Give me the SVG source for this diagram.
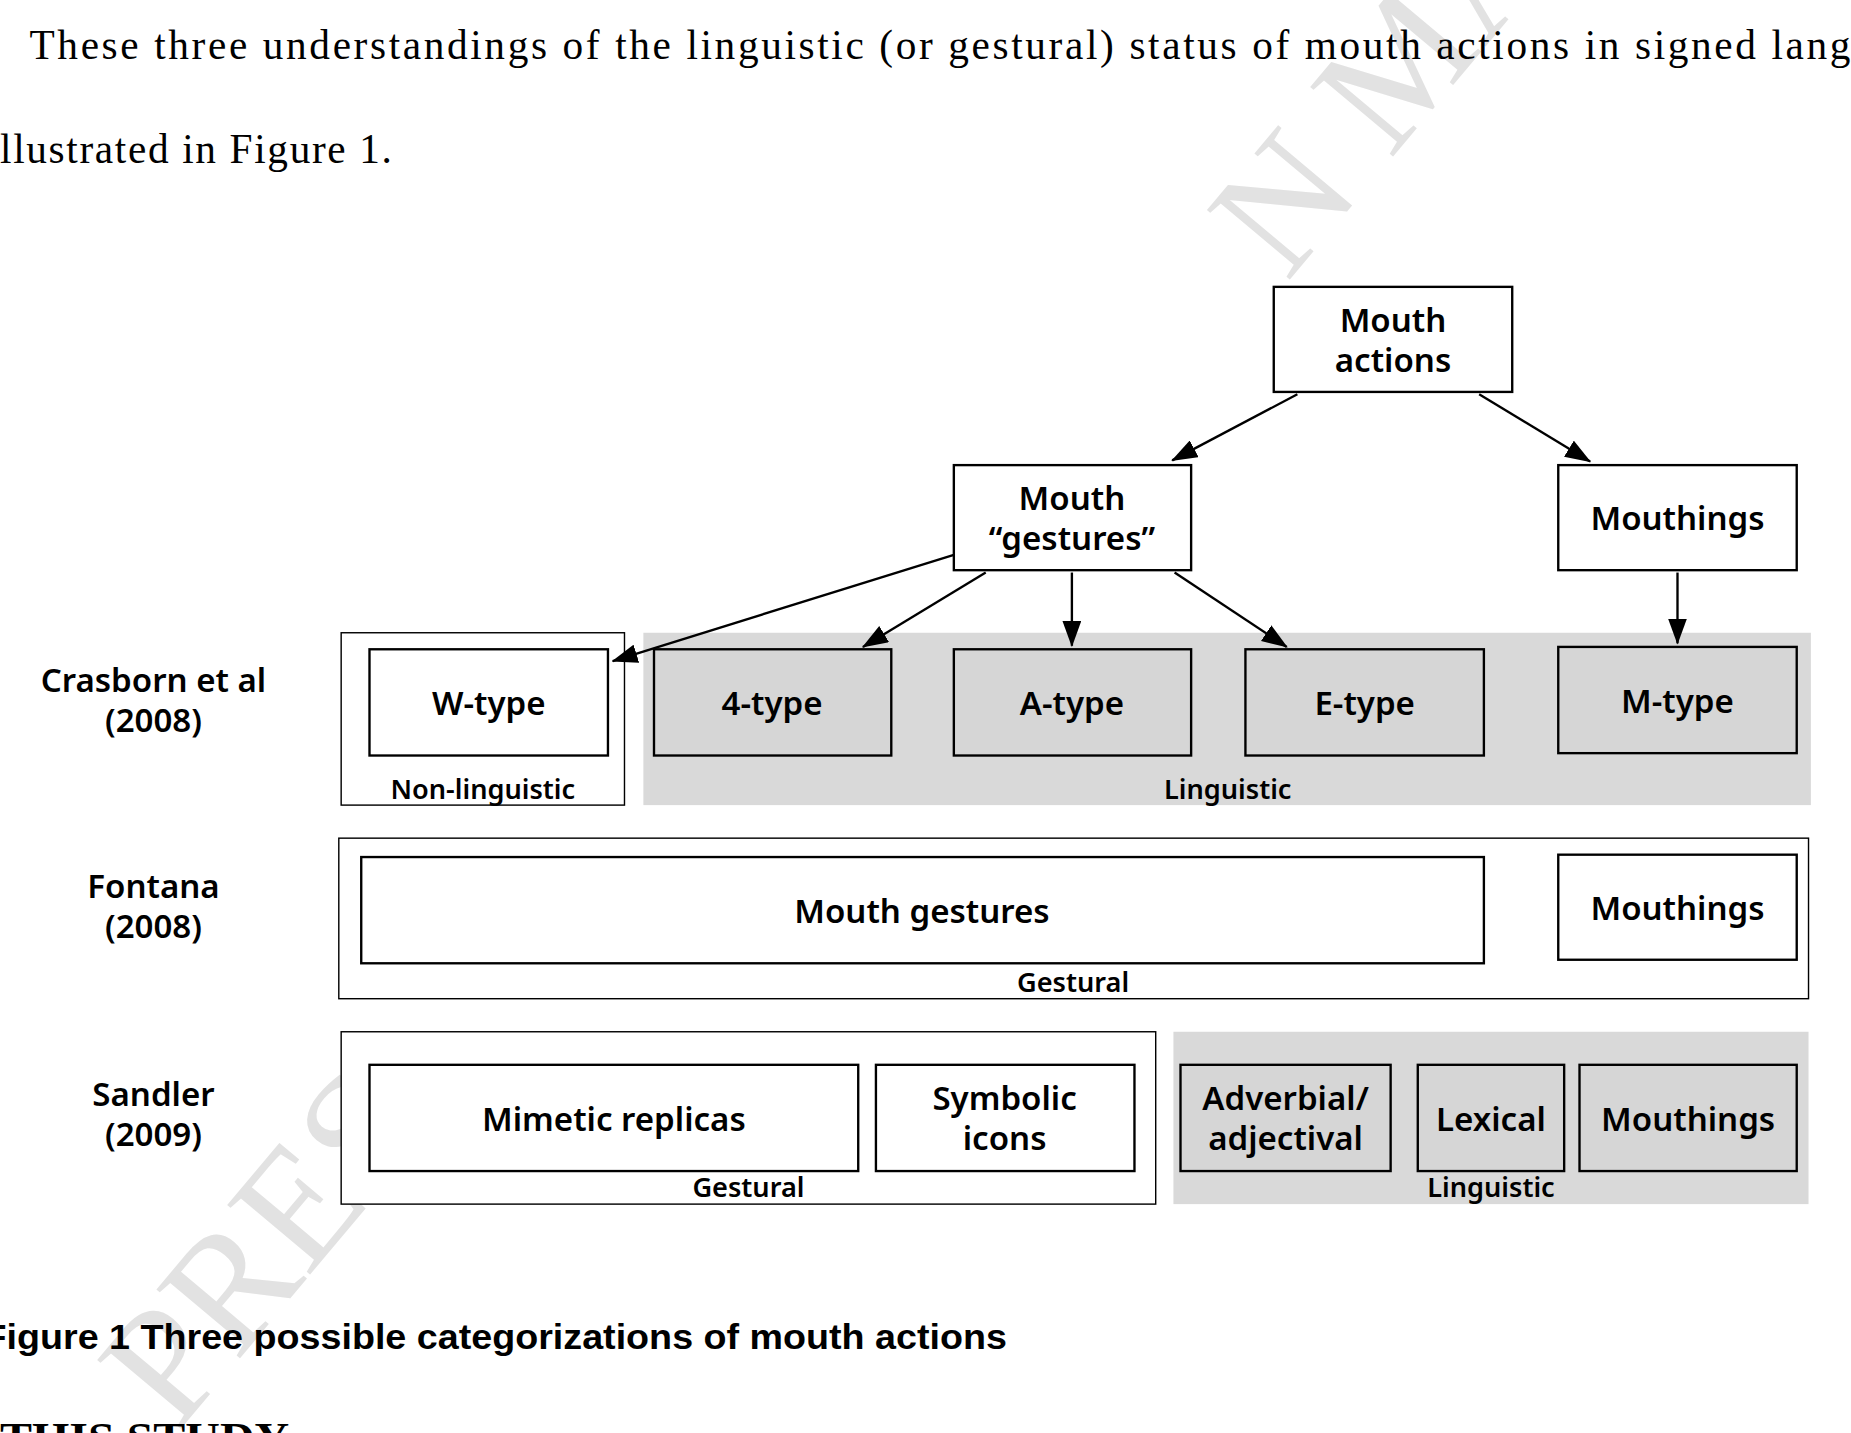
<svg xmlns="http://www.w3.org/2000/svg" width="1851" height="1433" viewBox="0 0 1851 1433">
<defs>
<marker id="ah" markerWidth="22" markerHeight="16" refX="21" refY="8" orient="auto" markerUnits="userSpaceOnUse" viewBox="0 0 22 16"><path d="M0,0 L22,8 L0,16 z" fill="#000"/></marker>
<style>
.b{fill:#fff;stroke:#000;stroke-width:2}
.g{fill:#d6d6d6;stroke:#000;stroke-width:2}
.bg{fill:#d9d9d9}
.o{fill:#fff;stroke:#000;stroke-width:1.2}
.t{font-family:"Noto Sans","DejaVu Sans",sans-serif;font-weight:600;font-size:28px;text-anchor:middle}
.s{font-family:"Noto Sans","DejaVu Sans",sans-serif;font-weight:600;font-size:23px;text-anchor:middle}
.c line{stroke:#000;stroke-width:2;marker-end:url(#ah)}
.p{font-family:"Liberation Serif",serif;font-size:35px}
.w{font-family:"Liberation Serif",serif;font-size:140px;fill:#e2e2e2}
</style>
</defs>
<rect width="1851" height="1433" fill="#fff"/>
<g transform="scale(1.1805)">
<text class="w" transform="translate(1090,240) rotate(-50)">N MAN</text>
<text class="w" transform="translate(150,1214) rotate(-50)">PRES</text>
<text class="p" x="25" y="50" textLength="1580" lengthAdjust="spacing">These three understandings of the linguistic (or gestural) status of mouth actions in signed langua</text>
<text class="p" x="0" y="138" textLength="332" lengthAdjust="spacing">llustrated in Figure 1.</text>
<g id="labels">
<text class="t" x="130" y="586">Crasborn et al</text><text class="t" x="130" y="620">(2008)</text>
<text class="t" x="130" y="761">Fontana</text><text class="t" x="130" y="795">(2008)</text>
<text class="t" x="130" y="937">Sandler</text><text class="t" x="130" y="971">(2009)</text>
</g>
<g id="row1bg"><rect class="o" x="289" y="536" width="240" height="146"/><rect class="bg" x="545" y="536" width="989" height="146"/>
<text class="s" x="409" y="677">Non-linguistic</text><text class="s" x="1040" y="677">Linguistic</text></g>
<g id="row2bg"><rect class="o" x="287" y="710" width="1245" height="136"/><text class="s" x="909" y="840">Gestural</text></g>
<g id="row3bg"><rect class="o" x="289" y="874" width="690" height="146"/><rect class="bg" x="994" y="874" width="538" height="146"/>
<text class="s" x="634" y="1014">Gestural</text><text class="s" x="1263" y="1014">Linguistic</text></g>
<g id="n-mouth-actions"><rect class="b" x="1079" y="243" width="202" height="89"/><text class="t" x="1180" y="281">Mouth</text><text class="t" x="1180" y="315">actions</text></g>
<g id="n-mouth-gestures"><rect class="b" x="808" y="394" width="201" height="89"/><text class="t" x="908" y="432">Mouth</text><text class="t" x="908" y="466">“gestures”</text></g>
<g id="n-mouthings"><rect class="b" x="1320" y="394" width="202" height="89"/><text class="t" x="1421" y="449">Mouthings</text></g>
<g id="n-w"><rect class="b" x="313" y="550" width="202" height="90"/><text class="t" x="414" y="606">W-type</text></g>
<g id="n-4"><rect class="g" x="554" y="550" width="201" height="90"/><text class="t" x="654" y="606">4-type</text></g>
<g id="n-a"><rect class="g" x="808" y="550" width="201" height="90"/><text class="t" x="908" y="606">A-type</text></g>
<g id="n-e"><rect class="g" x="1055" y="550" width="202" height="90"/><text class="t" x="1156" y="606">E-type</text></g>
<g id="n-m"><rect class="g" x="1320" y="548" width="202" height="90"/><text class="t" x="1421" y="604">M-type</text></g>
<g id="n-mg2"><rect class="b" x="306" y="726" width="951" height="90"/><text class="t" x="781" y="782">Mouth gestures</text></g>
<g id="n-mth2"><rect class="b" x="1320" y="724" width="202" height="89"/><text class="t" x="1421" y="779">Mouthings</text></g>
<g id="n-mim"><rect class="b" x="313" y="902" width="414" height="90"/><text class="t" x="520" y="958">Mimetic replicas</text></g>
<g id="n-sym"><rect class="b" x="742" y="902" width="219" height="90"/><text class="t" x="851" y="940">Symbolic</text><text class="t" x="851" y="974">icons</text></g>
<g id="n-adv"><rect class="g" x="1000" y="902" width="178" height="90"/><text class="t" x="1089" y="940">Adverbial/</text><text class="t" x="1089" y="974">adjectival</text></g>
<g id="n-lex"><rect class="g" x="1201" y="902" width="124" height="90"/><text class="t" x="1263" y="958">Lexical</text></g>
<g id="n-mth3"><rect class="g" x="1338" y="902" width="184" height="90"/><text class="t" x="1430" y="958">Mouthings</text></g>
<g id="connectors" class="c">
<line x1="1099" y1="334" x2="993" y2="390"/>
<line x1="1253" y1="334" x2="1347" y2="391"/>
<line x1="808" y1="470" x2="519" y2="560"/>
<line x1="835" y1="485" x2="731" y2="548"/>
<line x1="908" y1="485" x2="908" y2="547"/>
<line x1="995" y1="485" x2="1090" y2="548"/>
<line x1="1421" y1="485" x2="1421" y2="545"/>
</g>
<text x="-14" y="1143" textLength="867" lengthAdjust="spacingAndGlyphs" style="font-family:'Liberation Sans',sans-serif;font-weight:bold;font-size:29px">Figure 1 Three possible categorizations of mouth actions</text>
<text x="0" y="1230" textLength="245" lengthAdjust="spacingAndGlyphs" style="font-family:'Liberation Serif',serif;font-weight:bold;font-size:36px">THIS STUDY</text>
</g>
</svg>
